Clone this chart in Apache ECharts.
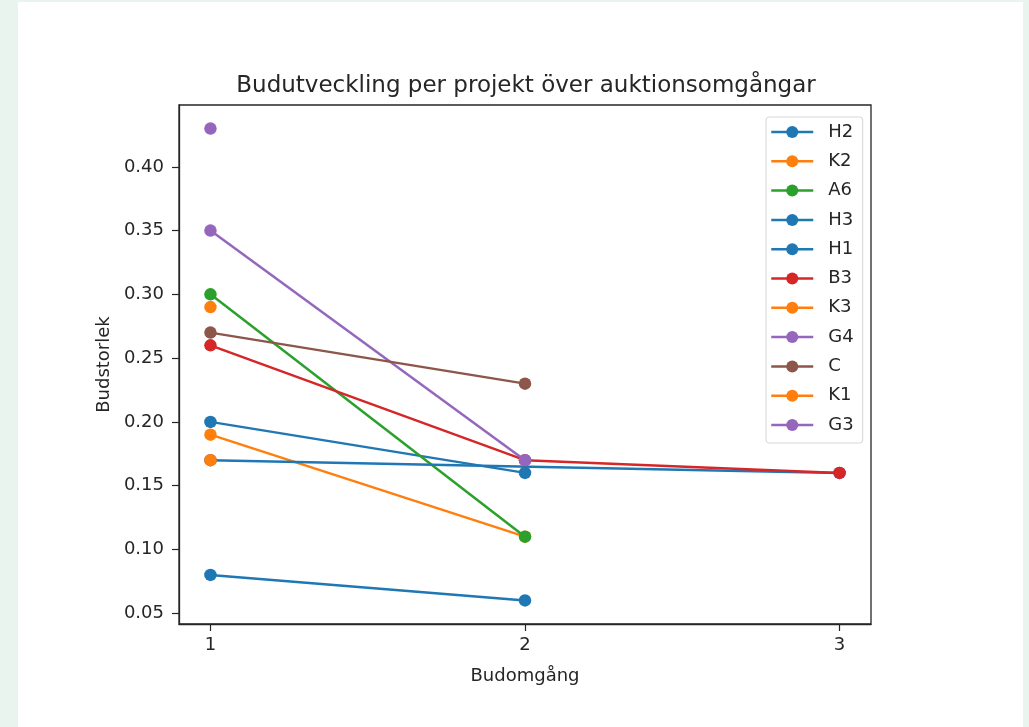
<!DOCTYPE html>
<html>
<head>
<meta charset="utf-8">
<script src="https://cdn.jsdelivr.net/npm/echarts@6/dist/echarts.min.js"></script>
<style>
  html, body { margin: 0; padding: 0; background: #eaf4ee; }
  #panel { position: absolute; left: 18px; top: 2px; width: 1005px; height: 725px; background: #ffffff; }
  #chart { position: absolute; left: 0; top: 0; width: 1029px; height: 727px; }
</style>
</head>
<body>
<div id="panel"></div>
<div id="chart"></div>
<script>
// Bid rounds (x) and tick labels
const rounds = [1, 2, 3];
const xTicks = [1, 2, 3];
const yTicks = [0.05, 0.10, 0.15, 0.20, 0.25, 0.30, 0.35, 0.40];

// Series (project) names in legend order
const projects = ['H2', 'K2', 'A6', 'H3', 'H1', 'B3', 'K3', 'G4', 'C', 'K1', 'G3'];

// Bid size per round (null = no bid in that round)
const H2 = [0.20, 0.16, null];
const K2 = [0.19, 0.11, null];
const A6 = [0.30, 0.11, null];
const H3 = [0.17, null, 0.16];
const H1 = [0.08, 0.06, null];
const B3 = [0.26, 0.17, 0.16];
const K3 = [0.29, null, null];
const G4 = [0.35, 0.17, null];
const C  = [0.27, 0.23, null];
const K1 = [0.17, null, null];
const G3 = [0.43, null, null];

const valuesByProject = { H2, K2, A6, H3, H1, B3, K3, G4, C, K1, G3 };

const colors = {
  H2: '#1f77b4', K2: '#ff7f0e', A6: '#2ca02c', H3: '#1f77b4', H1: '#1f77b4',
  B3: '#d62728', K3: '#ff7f0e', G4: '#9467bd', C: '#8c564b', K1: '#ff7f0e', G3: '#9467bd'
};

const font = 'DejaVu Sans';
const textColor = '#262626';
const spine = '#262626';

const series = projects.map((name, i) => {
  const vals = valuesByProject[name];
  const data = [];
  rounds.forEach((r, j) => { if (vals[j] !== null) data.push([r, vals[j]]); });
  return {
    name: name,
    type: 'line',
    data: data,
    symbol: 'circle',
    symbolSize: 12.5,
    showSymbol: true,
    z: 2 + i * 0.01,
    color: colors[name],
    lineStyle: { width: 2.5, color: colors[name] },
    itemStyle: { color: colors[name] },
    emphasis: { disabled: true },
    animation: false
  };
});

const chart = echarts.init(document.getElementById('chart'), null, { renderer: 'canvas' });
chart.setOption({
  backgroundColor: 'transparent',
  animation: false,
  title: {
    text: 'Budutveckling per projekt över auktionsomgångar',
    left: 521,
    textAlign: 'center',
    top: 70,
    textStyle: { fontFamily: font, fontSize: 23, fontWeight: 'normal', color: textColor }
  },
  grid: {
    left: 179, right: 158, top: 105, bottom: 103,
    show: true, borderColor: spine, borderWidth: 1.3, backgroundColor: '#ffffff',
    containLabel: false
  },
  legend: {
    data: projects,
    orient: 'vertical',
    left: 766,
    top: 117,
    padding: [6, 9, 9, 4],
    itemWidth: 42,
    itemHeight: 15,
    itemGap: 11.3,
    lineStyle: { width: 2.5 },
    backgroundColor: 'rgba(255,255,255,0.8)',
    borderColor: '#d6d6d6',
    borderWidth: 1,
    borderRadius: 3,
    textStyle: { fontFamily: font, fontSize: 18, lineHeight: 18, color: textColor, padding: [0, 0, 0, 10] }
  },
  xAxis: {
    type: 'value',
    min: 0.9,
    max: 3.1,
    name: 'Budomgång',
    nameLocation: 'middle',
    nameGap: 43,
    nameTextStyle: { fontFamily: font, fontSize: 18, color: textColor },
    axisLine: { show: true, lineStyle: { color: spine, width: 1.3 } },
    axisTick: { show: true, length: 7, customValues: xTicks, lineStyle: { color: spine, width: 1.2 } },
    axisLabel: { customValues: xTicks, margin: 12, fontFamily: font, fontSize: 18, color: textColor },
    splitLine: { show: false }
  },
  yAxis: {
    type: 'value',
    min: 0.0415,
    max: 0.4485,
    name: 'Budstorlek',
    nameLocation: 'middle',
    nameGap: 66,
    nameRotate: 90,
    nameTextStyle: { fontFamily: font, fontSize: 18, color: textColor },
    axisLine: { show: true, lineStyle: { color: spine, width: 1.3 } },
    axisTick: { show: true, length: 7, customValues: yTicks, lineStyle: { color: spine, width: 1.2 } },
    axisLabel: {
      customValues: yTicks, margin: 15, fontFamily: font, fontSize: 18, color: textColor,
      formatter: v => v.toFixed(2)
    },
    splitLine: { show: false }
  },
  series: series
});
</script>
</body>
</html>
